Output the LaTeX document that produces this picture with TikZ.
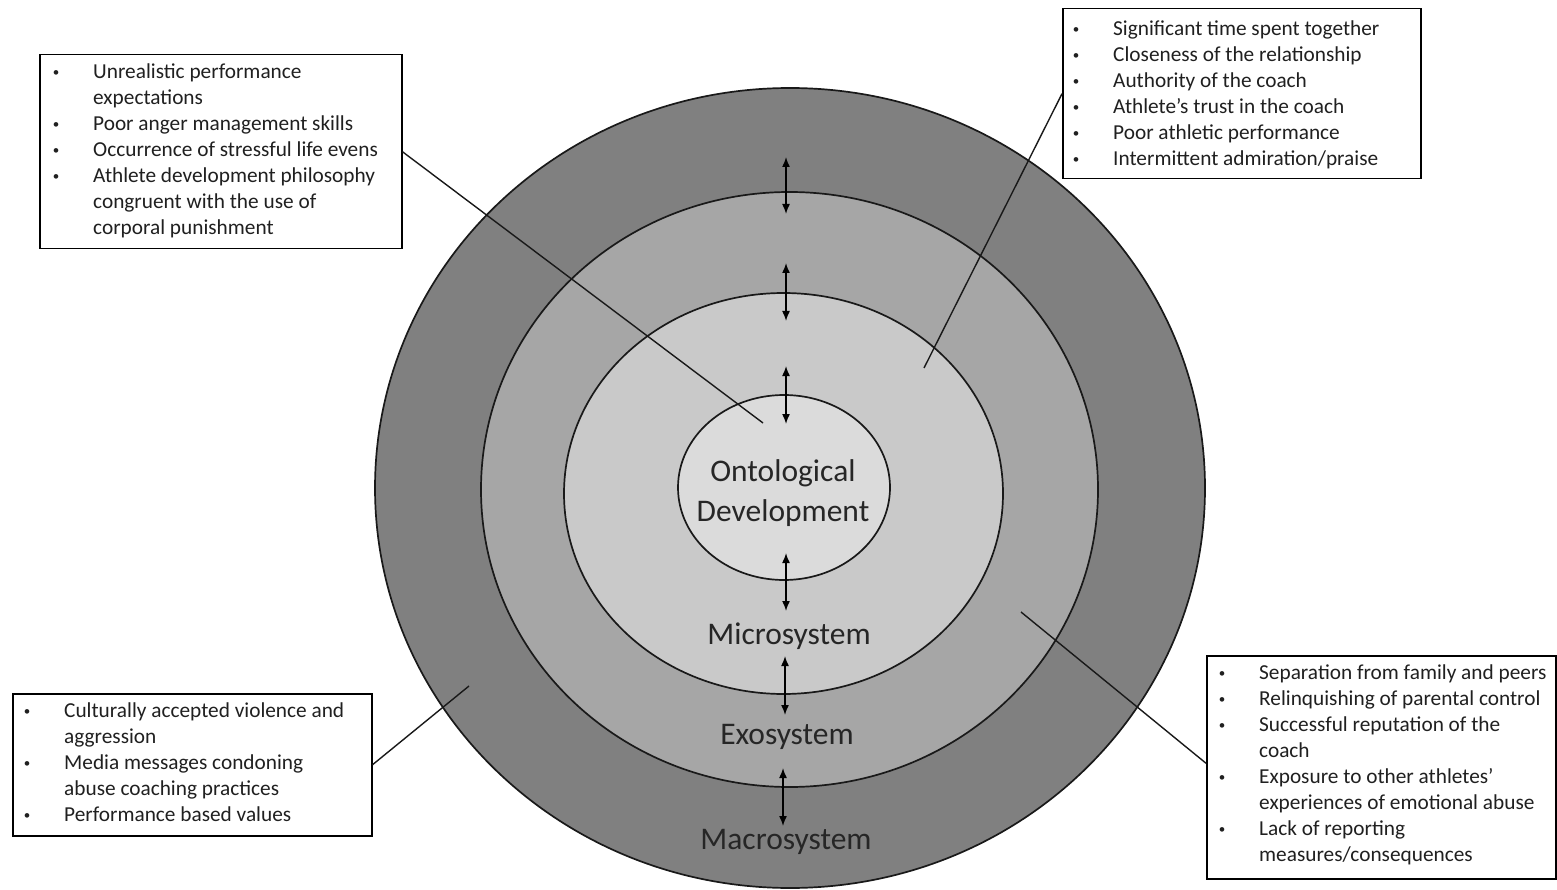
\documentclass[tikz,border=0pt]{standalone}
\usepackage{fontspec}
\setmainfont{Carlito}
\usetikzlibrary{shapes.geometric,arrows.meta}
\definecolor{macroC}{HTML}{808080}
\definecolor{exoC}{HTML}{A6A6A6}
\definecolor{microC}{HTML}{C9C9C9}
\definecolor{ontoC}{HTML}{DBDBDB}
\definecolor{labC}{HTML}{262626}
\definecolor{txtC}{HTML}{202020}
\newcommand{\bul}{\makebox[37pt][l]{\makebox[0pt][c]{\raisebox{2.6pt}{\fontsize{13}{13}\selectfont •}}}}
\tikzset{
  ring/.style={ellipse, draw=black!90, line width=1.7pt, inner sep=0pt},
  ringlabel/.style={font=\fontsize{31.5}{40}\selectfont, text=labC, inner sep=0pt, align=center},
  listbox/.style={draw=black, line width=1.5pt, fill=white, inner sep=0pt, anchor=north west},
  listtxt/.style={font=\fontsize{21.3}{26}\selectfont, text=txtC, inner sep=0pt, anchor=north west},
  dbl/.style={{Latex[length=10pt,width=8pt]}-{Latex[length=10pt,width=8pt]}, line width=1.5pt},
  conn/.style={line width=1.4pt, draw=black!90}
}
\begin{document}
\begin{tikzpicture}[x=1pt,y=-1pt]
\useasboundingbox (0,0) rectangle (1557,890);

% rings
\node[ring, fill=macroC, minimum width=830pt, minimum height=800pt] (macro) at (790,488) {};
\node[ring, fill=exoC, minimum width=617pt, minimum height=595pt] (exo) at (789.5,489.5) {};
\node[ring, fill=microC, minimum width=439pt, minimum height=401pt] (micro) at (783.5,493.5) {};
\node[ring, fill=ontoC, minimum width=212pt, minimum height=185pt] (onto) at (784,487.5) {};

% labels
\node[ringlabel] (lonto) at (783,493) {Ontological\\[0pt]Development};
\node[ringlabel] (lmicro) at (789,636) {Microsystem};
\node[ringlabel] (lexo) at (787,737) {Exosystem};
\node[ringlabel] (lmacro) at (786,842) {Macrosystem};

% arrow end points
\coordinate (a1t) at (786,157); \coordinate (a1b) at (786,214);
\coordinate (a2t) at (786,263); \coordinate (a2b) at (786,321);
\coordinate (a3t) at (786,366); \coordinate (a3b) at (786,424);
\coordinate (a4t) at (786,553); \coordinate (a4b) at (786,611);
\coordinate (a5t) at (785,656); \coordinate (a5b) at (785,715);
\coordinate (a6t) at (783,768); \coordinate (a6b) at (783,826);
\draw[dbl] (a1t) -- (a1b);
\draw[dbl] (a2t) -- (a2b);
\draw[dbl] (a3t) -- (a3b);
\draw[dbl] (a4t) -- (a4b);
\draw[dbl] (a5t) -- (a5b);
\draw[dbl] (a6t) -- (a6b);

% boxes
\node[listbox, minimum width=362pt, minimum height=194pt] (b1) at (39,54) {};
\node[listbox, minimum width=358pt, minimum height=170pt] (b2) at (1062,8) {};
\node[listbox, minimum width=359pt, minimum height=142pt] (b3) at (12,693) {};
\node[listbox, minimum width=349pt, minimum height=223pt] (b4) at (1206,655) {};

% connector free ends
\coordinate (c1) at (763,423);
\coordinate (c2) at (924,368);
\coordinate (c3) at (469,686);
\coordinate (c4) at (1021,612);
\draw[conn] (b1.east) -- (c1);
\draw[conn] (b2.west) -- (c2);
\draw[conn] (b3.east) -- (c3);
\draw[conn] ([yshift=4pt]b4.west) -- (c4);

% texts
\node[listtxt] (t1) at (56,60.5) {\begin{tabular}{@{}l@{}l@{}}
\bul & Unrealistic performance\\
 & expectations\\
\bul & Poor anger management skills\\
\bul & Occurrence of stressful life evens\\
\bul & Athlete development philosophy\\
 & congruent with the use of\\
 & corporal punishment
\end{tabular}};
\node[listtxt] (t2) at (1076,17.5) {\begin{tabular}{@{}l@{}l@{}}
\bul & Significant time spent together\\
\bul & Closeness of the relationship\\
\bul & Authority of the coach\\
\bul & Athlete’s trust in the coach\\
\bul & Poor athletic performance\\
\bul & Intermittent admiration/praise
\end{tabular}};
\node[listtxt] (t3) at (27,699.5) {\begin{tabular}{@{}l@{}l@{}}
\bul & Culturally accepted violence and\\
 & aggression\\
\bul & Media messages condoning\\
 & abuse coaching practices\\
\bul & Performance based values
\end{tabular}};
\node[listtxt] (t4) at (1222,661.5) {\begin{tabular}{@{}l@{}l@{}}
\bul & Separation from family and peers\\
\bul & Relinquishing of parental control\\
\bul & Successful reputation of the\\
 & coach\\
\bul & Exposure to other athletes’\\
 & experiences of emotional abuse\\
\bul & Lack of reporting\\
 & measures/consequences
\end{tabular}};
\end{tikzpicture}
\end{document}
